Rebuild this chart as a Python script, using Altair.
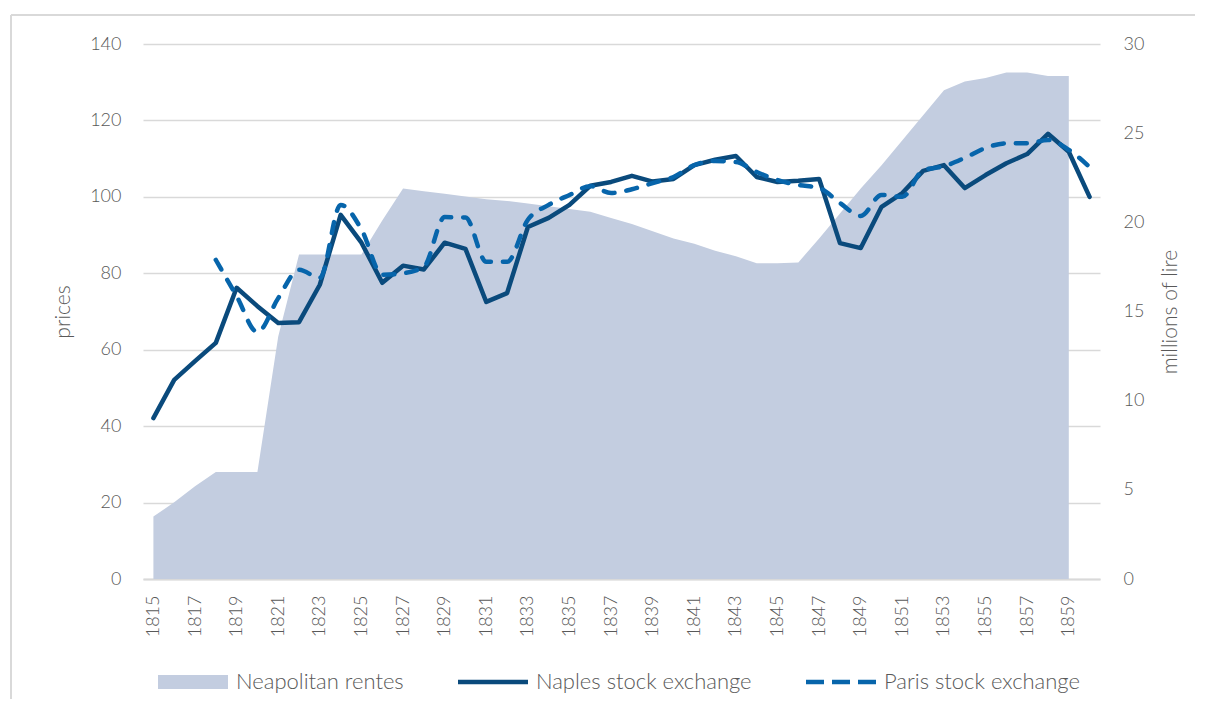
import altair as alt
import pandas as pd

# ---- data ----
years = list(range(1815, 1861))

rentes = [3.5, 4.3, 5.2, 6.0, 6.0, 6.0, 13.6, 18.2, 18.2, 18.2,
          18.2, 20.1, 21.9, 21.75, 21.6, 21.45, 21.3, 21.2, 21.05, 20.9,
          20.75, 20.6, 20.25, 19.9, 19.5, 19.1, 18.8, 18.4, 18.1, 17.7,
          17.7, 17.75, 19.1, 20.5, 21.9, 23.2, 24.6, 26.0, 27.4, 27.9,
          28.1, 28.4, 28.4, 28.2, 28.2, None]

naples = [42.1, 52.1, 57.0, 61.8, 76.2, 71.4, 67.0, 67.2, 77.0, 95.3,
          88.0, 77.5, 82.0, 81.0, 88.0, 86.4, 72.5, 74.8, 92.1, 94.5,
          97.9, 102.9, 103.9, 105.5, 104.0, 104.7, 108.3, 109.7, 110.7, 105.2,
          103.9, 104.2, 104.7, 87.9, 86.6, 97.4, 101.0, 106.8, 108.3, 102.3,
          105.7, 108.8, 111.2, 116.5, 111.8, 100.0]

paris = [None, None, None, 83.5, 74.0, 64.6, 73.5, 80.9, 78.8, 97.9,
         91.5, 79.6, 80.0, 81.7, 94.7, 94.6, 83.0, 83.0, 94.0, 97.9,
         100.5, 102.8, 101.0, 102.0, 103.6, 105.2, 108.3, 109.4, 109.1, 106.5,
         104.4, 103.1, 102.3, 98.4, 95.0, 100.5, 100.0, 107.0, 108.0, 110.2,
         112.8, 114.0, 114.0, 114.9, 112.3, 107.8]

series_names = ["Neapolitan rentes", "Naples stock exchange", "Paris stock exchange"]
x_labels = list(range(1815, 1860, 2))
left_ticks = [0, 20, 40, 60, 80, 100, 120, 140]
right_ticks = [0, 5, 10, 15, 20, 25, 30]

df = pd.DataFrame({
    "year": years,
    "rentes": rentes,
    "naples": naples,
    "paris": paris,
    "s_r": series_names[0],
    "s_n": series_names[1],
    "s_p": series_names[2],
})

FONT = "Lato"
GREY = "#595959"
GRID = "#d9d9d9"
AREA_C = "#c3cde0"
NAPLES_C = "#0a4a7c"
PARIS_C = "#0765ab"
W, H = 957, 535

x_enc = alt.X(
    "year:Q",
    scale=alt.Scale(domain=[1814.5, 1860.5], nice=False, zero=False),
    axis=alt.Axis(values=x_labels, format="d", labelAngle=-90, title=None,
                  grid=False, ticks=False, domainColor=GRID, domainWidth=2,
                  labelPadding=16, labelFontSize=18),
)

left_axis = alt.Axis(values=left_ticks, grid=True, gridColor=GRID, gridWidth=1.3,
                     ticks=False, domain=False, title="prices", labelPadding=22,
                     titleX=-80, titleY=H / 2, titleAngle=270, titleBaseline="middle",
                     titleAlign="center", labelFontSize=18, titleFontSize=21)

legend_common = dict(orient="none", direction="horizontal", title=None,
                     symbolSize=196, labelOffset=32, padding=0, labelLimit=0,
                     labelFontSize=22, labelColor=GREY, labelFont=FONT,
                     labelFontWeight=300, legendY=627)

area = alt.Chart(df).mark_area(opacity=1).encode(
    x=x_enc,
    y=alt.Y("rentes:Q", scale=alt.Scale(domain=[0, 30], nice=False),
            axis=alt.Axis(orient="right", values=right_ticks, grid=False, ticks=False,
                          domain=False, title="millions of lire", titleAngle=270,
                          titleX=70, titleY=H / 2, titleBaseline="middle",
                          titleAlign="center", labelPadding=23, labelFontSize=18,
                          titleFontSize=21)),
    fill=alt.Fill("s_r:N", scale=alt.Scale(domain=[series_names[0]], range=[AREA_C]),
                  legend=alt.Legend(symbolType="M-5,-1H5V1H-5Z",
                                    legendX=39, **legend_common)),
)

naples_line = alt.Chart(df).mark_line(strokeWidth=4.5, strokeCap="round", strokeJoin="round").encode(
    x=x_enc,
    y=alt.Y("naples:Q", scale=alt.Scale(domain=[0, 140], nice=False), axis=left_axis),
    color=alt.Color("s_n:N", scale=alt.Scale(domain=[series_names[1]], range=[NAPLES_C]),
                    legend=alt.Legend(symbolType="M-5,0H5", symbolStrokeWidth=4.5,
                                      legendX=339, **legend_common)),
)

paris_line = alt.Chart(df).mark_line(strokeWidth=4.5, strokeCap="round", strokeJoin="round",
                                     strokeDash=[11, 12], interpolate="monotone").encode(
    x=x_enc,
    y=alt.Y("paris:Q", scale=alt.Scale(domain=[0, 140], nice=False), axis=left_axis),
    stroke=alt.Stroke("s_p:N", scale=alt.Scale(domain=[series_names[2]], range=[PARIS_C]),
                      legend=alt.Legend(symbolType="M-5,0H5", symbolStrokeWidth=4.5,
                                        symbolDash=[18, 8], legendX=687, **legend_common)),
)

frame = alt.Data(values=[{}])
frame_top = alt.Chart(frame).mark_rule(color=GRID, strokeWidth=2).encode(
    x=alt.value(-132), x2=alt.value(W + 300), y=alt.value(-29))
frame_left = alt.Chart(frame).mark_rule(color=GRID, strokeWidth=2).encode(
    x=alt.value(-132), y=alt.value(-29), y2=alt.value(H + 300))

lines = alt.layer(naples_line, paris_line)

chart = alt.layer(frame_top, frame_left, area, lines).resolve_scale(
    y="independent"
).properties(
    width=W, height=H,
    autosize=alt.AutoSizeParams(type="none"),
    padding={"left": 135, "top": 36, "right": 95, "bottom": 120},
).configure_view(stroke=None).configure_axis(
    labelFont=FONT, titleFont=FONT, labelColor=GREY, titleColor=GREY,
    labelFontWeight=300, titleFontWeight=300,
)

chart.save("out.html", embed_options={"renderer": "svg", "actions": False})
